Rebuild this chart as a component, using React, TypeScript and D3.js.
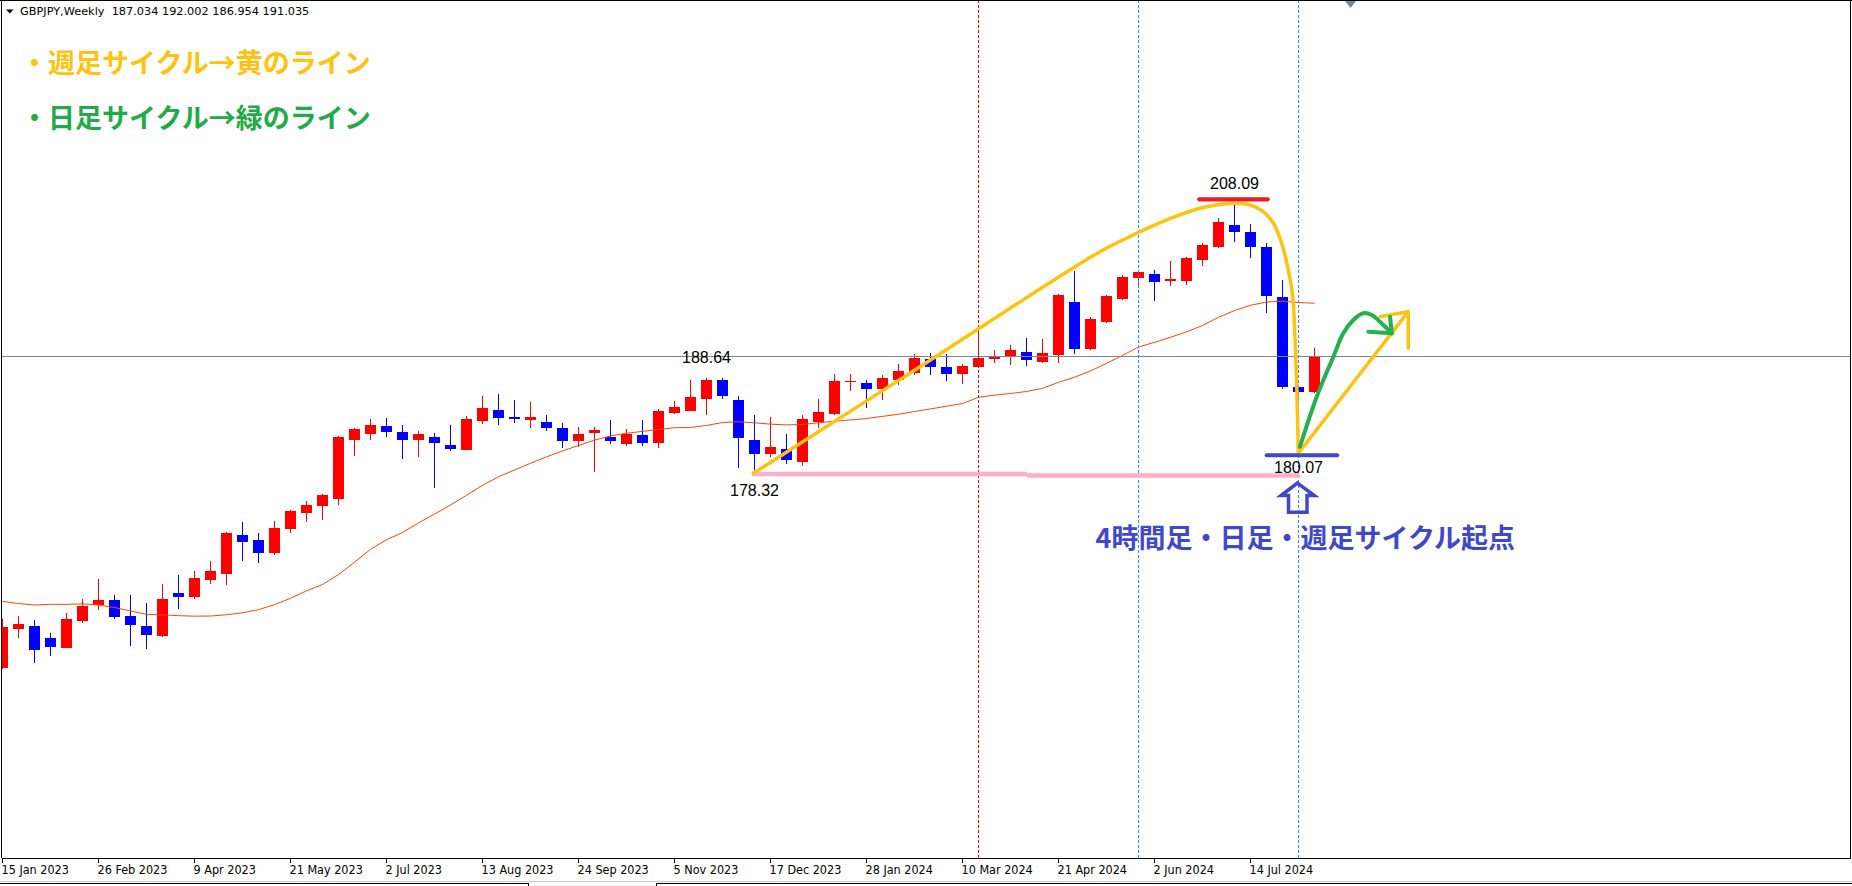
import React, { useEffect, useRef } from 'react'
import * as d3 from 'd3'

// GBPJPY weekly bars, bar 0 = week of 15 Jan 2023
const opens = [
  156.2, 160.59, 160.89, 159.55, 158.47, 161.48, 163.2, 163.8, 162.01, 160.89,
  159.81, 164.58, 164.16, 166.06, 166.73, 171.06, 170.5, 169.05, 171.76, 173.55,
  174.33, 175.11, 181.71, 182.38, 183.24, 182.57, 181.71, 182.01, 181.11, 180.59,
  183.83, 185.02, 184.24, 183.94, 183.68, 183.01, 181.59, 182.49, 182.01, 181.26,
  182.23, 181.37, 184.69, 184.95, 186.25, 188.38, 186.14, 181.67, 180.14, 180.67,
  179.25, 183.72, 184.61, 188.19, 188.04, 187.4, 188.41, 189.19, 190.72, 189.83,
  189.08, 189.86, 190.76, 190.98, 191.5, 190.39, 191.17, 197.09, 191.84, 194.86,
  197.43, 199.81, 200.22, 199.44, 199.44, 201.78, 203.24, 205.69, 204.91, 203.24,
  197.65, 187.59, 187.034
]
const highs = [
  161.67, 162.01, 161.56, 160.11, 162.34, 163.91, 166.14, 164.35, 164.35, 163.46,
  165.58, 166.59, 167.04, 168.15, 171.35, 172.51, 171.28, 172.62, 173.85, 174.86,
  175.64, 182.12, 183.01, 184.02, 184.13, 183.35, 182.68, 182.45, 183.35, 184.35,
  186.59, 186.81, 186.14, 185.92, 184.47, 183.57, 183.12, 183.12, 183.91, 182.9,
  183.91, 185.14, 186.03, 188.38, 188.64, 188.6, 186.59, 184.47, 184.19, 182.34,
  184.47, 186.25, 189.05, 189.05, 188.38, 188.93, 190.16, 191.28, 191.39, 191.28,
  190.16, 193.74, 191.73, 192.29, 193.03, 192.96, 197.98, 200.55, 195.45, 197.87,
  200.11, 200.67, 200.67, 201.67, 202.12, 203.68, 206.48, 208.09, 205.81, 203.68,
  199.55, 187.8, 192.002
]
const lows = [
  156.1, 159.58, 156.79, 157.57, 158.4, 161.26, 162.71, 161.71, 158.69, 158.35,
  159.69, 162.82, 163.94, 165.62, 165.5, 168.19, 167.96, 168.86, 171.31, 172.54,
  172.77, 174.44, 179.92, 181.71, 182.04, 179.52, 179.81, 176.34, 180.48, 180.55,
  183.49, 183.38, 183.6, 183.05, 182.68, 180.81, 180.92, 178.13, 181.22, 181.04,
  181.04, 180.81, 184.58, 184.9, 184.47, 186.22, 178.58, 178.32, 179.81, 179.02,
  178.8, 182.98, 184.5, 187.18, 185.28, 186.17, 187.85, 188.97, 188.97, 188.3,
  187.96, 189.8, 190.31, 190.05, 189.94, 190.28, 190.28, 191.28, 191.73, 194.74,
  197.31, 198.62, 197.2, 198.88, 198.99, 201.11, 203.12, 203.79, 202.01, 195.86,
  187.37, 180.07, 186.954
]
const closes = [
  160.81, 161.11, 158.24, 158.58, 161.67, 163.12, 163.8, 161.93, 161.04, 159.92,
  163.91, 164.16, 166.25, 167.04, 171.28, 170.31, 169.08, 171.84, 173.74, 174.41,
  175.53, 182.01, 182.9, 183.35, 182.51, 181.71, 182.34, 181.37, 180.7, 184.02,
  185.25, 184.16, 184.02, 184.24, 183.05, 181.59, 182.34, 182.79, 181.59, 182.34,
  181.37, 184.91, 185.36, 186.48, 188.38, 186.62, 181.9, 180.14, 180.89, 179.47,
  184.02, 184.8, 188.26, 188.26, 187.4, 188.6, 189.38, 190.83, 189.86, 189.08,
  189.94, 190.83, 191.06, 191.73, 190.61, 191.39, 197.87, 191.84, 195.19, 197.76,
  199.88, 200.44, 199.33, 199.66, 202.01, 203.46, 206.03, 204.91, 203.24, 197.76,
  187.59, 187.03, 191.035
]
// moving average
const maValues = [
  163.65, 163.4, 163.24, 163.31, 163.31, 163.37, 163.24, 162.96, 162.57, 162.2,
  162.14, 162.05, 161.99, 162.01, 162.15, 162.37, 162.72, 163.28, 163.99, 164.82,
  165.53, 166.64, 168.01, 169.46, 170.53, 171.34, 172.4, 173.4, 174.41, 175.5,
  176.61, 177.56, 178.32, 179.07, 179.79, 180.45, 181.06, 181.66, 182.12, 182.43,
  182.63, 182.85, 183.04, 183.07, 183.3, 183.62, 183.71, 183.59, 183.44, 183.36,
  183.41, 183.59, 183.77, 183.91, 184.07, 184.31, 184.55, 184.85, 185.14, 185.45,
  185.74, 186.44, 186.68, 186.87, 187.09, 187.44, 188.12, 188.68, 189.38, 190.23,
  191.12, 192.06, 192.58, 193.15, 193.75, 194.46, 195.38, 196.13, 196.72, 197.09,
  197.18, 197.03, 196.95
]

const tickLabels = [
  '15 Jan 2023', '26 Feb 2023', '9 Apr 2023', '21 May 2023', '2 Jul 2023',
  '13 Aug 2023', '24 Sep 2023', '5 Nov 2023', '17 Dec 2023', '28 Jan 2024',
  '10 Mar 2024', '21 Apr 2024', '2 Jun 2024', '14 Jul 2024'
]
const tickBars = [0, 6, 12, 18, 24, 30, 36, 42, 48, 54, 60, 66, 72, 78]

const headerText = 'GBPJPY,Weekly  187.034 192.002 186.954 191.035'
const bidPrice = 191.035
const redVLineBars = [61]
const blueVLineBars = [71, 81]

// hand drawn marks, as [bar, price]
const weeklyCycle: [number, number][] = [
  [46.93, 177.95], [57.76, 190.33], [68.59, 202.71], [70.68, 204.58],
  [72.76, 206.25], [74.84, 207.56], [76.92, 208.12], [77.97, 207.93],
  [78.8, 207.18], [79.43, 205.88], [79.95, 203.65], [80.36, 200.67],
  [80.64, 197.68], [80.78, 193.21], [80.89, 187.63], [80.99, 180.19]
]
const weeklyArrow: [number, number][] = [[80.99, 180.19], [87.86, 196.01]]
const weeklyArrowHead: [number, number][] = [[86.09, 195.45], [87.86, 196.01], [87.86, 191.92]]
const dailyCycle: [number, number][] = [
  [81.09, 180.92], [82.14, 186.51], [83.18, 190.98], [83.8, 193.59],
  [84.43, 195.08], [85.05, 195.83], [85.58, 195.64], [86.09, 194.89], [86.83, 193.59]
]
const dailyArrowHead: [number, number][] = [[85.36, 193.77], [86.83, 193.59], [86.72, 195.45]]
const pinkLevel: [number, number][][] = [
  [[46.84, 177.87], [64.03, 177.87]],
  [[64.03, 177.71], [81.09, 177.71]]
]
const topMark: [number, number][] = [[74.8, 208.56], [79.07, 208.56]]
const bottomMark: [number, number][] = [[79.01, 179.96], [83.42, 179.96]]
const highLabels: [number, number, string][] = [[44, 188.64, '188.64'], [77, 208.09, '208.09']]
const lowLabels: [number, number, string][] = [[47, 178.32, '178.32'], [81, 180.07, '180.07']]

const noteLines = ['・週足サイクル→黄のライン', '・日足サイクル→緑のライン']
const noteColors = ['#FFC20E', '#22AA48']
const startNote = '4時間足・日足・週足サイクル起点'

const width = 1852
const height = 886

const App: React.FC = () => {
  const svgRef = useRef<SVGSVGElement>(null)

  useEffect(() => {
    if (!svgRef.current) return
    const svg = d3.select(svgRef.current)
    svg.selectAll('*').remove()

    const axisY = 858
    const left = 1.5
    const right = 1850.5

    const x = d3.scaleLinear().domain([0, 115]).range([2.5, 1842.5])
    const y = d3.scaleLinear().domain([178.32, 208.09]).range([470, 203.5])

    const bars = opens.map((o, i) => ({ i, o, h: highs[i], l: lows[i], c: closes[i] }))

    svg.append('rect').attr('width', width).attr('height', height).attr('fill', '#ffffff')

    svg
      .append('clipPath')
      .attr('id', 'plot-clip')
      .append('rect')
      .attr('x', 2)
      .attr('y', 1)
      .attr('width', right - 2)
      .attr('height', axisY - 1)

    const plot = svg.append('g').attr('clip-path', 'url(#plot-clip)')

    // candles
    const candle = plot
      .selectAll('.candle')
      .data(bars)
      .enter()
      .append('g')
      .attr('class', 'candle')
      .attr('fill', (d) => (d.c >= d.o ? '#ff0000' : '#0000ff'))
      .attr('shape-rendering', 'crispEdges')

    candle
      .append('rect')
      .attr('x', (d) => x(d.i) - 0.5)
      .attr('width', 1)
      .attr('y', (d) => Math.round(y(d.h)))
      .attr('height', (d) => Math.max(1, Math.round(y(d.l)) - Math.round(y(d.h))))

    candle
      .append('rect')
      .attr('x', (d) => x(d.i) - 5.5)
      .attr('width', 11)
      .attr('y', (d) => Math.round(y(Math.max(d.o, d.c))))
      .attr('height', (d) =>
        Math.max(1, Math.round(y(Math.min(d.o, d.c))) - Math.round(y(Math.max(d.o, d.c))))
      )

    // moving average
    plot
      .append('path')
      .datum(maValues)
      .attr('fill', 'none')
      .attr('stroke', '#ff4500')
      .attr('stroke-width', 1)
      .attr(
        'd',
        d3
          .line<number>()
          .x((_, i) => x(i))
          .y((d) => y(d))
      )

    // bid line
    plot
      .append('line')
      .attr('x1', 0)
      .attr('x2', right)
      .attr('y1', Math.round(y(bidPrice)) + 0.5)
      .attr('y2', Math.round(y(bidPrice)) + 0.5)
      .attr('stroke', '#778899')
      .attr('stroke-width', 1)

    // vertical dotted lines
    const vLines = [
      ...redVLineBars.map((b) => ({ b, color: '#ff0000' })),
      ...blueVLineBars.map((b) => ({ b, color: '#1e90ff' }))
    ]
    plot
      .selectAll('.vline')
      .data(vLines)
      .enter()
      .append('line')
      .attr('class', 'vline')
      .attr('x1', (d) => x(d.b))
      .attr('x2', (d) => x(d.b))
      .attr('y1', 0)
      .attr('y2', axisY)
      .attr('stroke', (d) => d.color)
      .attr('stroke-width', 1)
      .attr('stroke-dasharray', '3 2')
      .attr('shape-rendering', 'crispEdges')

    // frame + time axis
    const frame = svg.append('g').attr('stroke', '#000000').attr('shape-rendering', 'crispEdges')
    frame.append('line').attr('x1', 0).attr('x2', width).attr('y1', 0.5).attr('y2', 0.5)
    frame.append('line').attr('x1', left).attr('x2', left).attr('y1', 0).attr('y2', axisY)
    frame.append('line').attr('x1', right).attr('x2', right).attr('y1', 0).attr('y2', axisY)
    frame.append('line').attr('x1', left).attr('x2', right).attr('y1', axisY + 0.5).attr('y2', axisY + 0.5)

    frame
      .selectAll('.tick')
      .data(tickBars)
      .enter()
      .append('line')
      .attr('x1', (d) => x(d))
      .attr('x2', (d) => x(d))
      .attr('y1', axisY)
      .attr('y2', axisY + 5)

    svg
      .selectAll('.tick-label')
      .data(tickLabels)
      .enter()
      .append('text')
      .attr('class', 'tick-label')
      .attr('x', (_, i) => x(tickBars[i]) - 1)
      .attr('y', 874)
      .attr('fill', '#000000')
      .style('font-family', "'DejaVu Sans Condensed', 'Liberation Sans Narrow', 'DejaVu Sans'")
      .style('font-size', '12.5px')
      .text((d) => d)

    // bottom tab strip
    svg.append('line').attr('x1', 0).attr('x2', width).attr('y1', 881.5).attr('y2', 881.5)
      .attr('stroke', '#c8c8c8').attr('shape-rendering', 'crispEdges')
    const tab = svg.append('g').attr('stroke', '#000000').attr('shape-rendering', 'crispEdges')
    tab.append('line').attr('x1', 0).attr('x2', 528.5).attr('y1', 883.5).attr('y2', 883.5)
    tab.append('line').attr('x1', 656.5).attr('x2', width).attr('y1', 883.5).attr('y2', 883.5)
    tab.append('line').attr('x1', 528.5).attr('x2', 528.5).attr('y1', 883).attr('y2', height)
    tab.append('line').attr('x1', 656.5).attr('x2', 656.5).attr('y1', 883).attr('y2', height)

    // header
    svg
      .append('path')
      .attr('d', 'M6,9.5 L13.5,9.5 L9.75,13.5 Z')
      .attr('fill', '#000000')
    svg
      .append('text')
      .attr('x', 20)
      .attr('y', 15)
      .attr('fill', '#000000')
      .style('font-family', "'DejaVu Sans', sans-serif")
      .style('font-size', '11.3px')
      .style('white-space', 'pre')
      .text(headerText)

    // chart shift marker
    svg
      .append('path')
      .attr('d', 'M1345,1 L1356,1 L1350.5,8 Z')
      .attr('fill', '#778899')

    // hand drawn overlay
    const pt = d3
      .line<[number, number]>()
      .x((d) => x(d[0]))
      .y((d) => y(d[1]))
    const curve = d3
      .line<[number, number]>()
      .x((d) => x(d[0]))
      .y((d) => y(d[1]))
      .curve(d3.curveCatmullRom.alpha(0.5))

    const draw = svg.append('g').attr('fill', 'none').attr('stroke-linecap', 'round').attr('stroke-linejoin', 'round')

    pinkLevel.forEach((seg) => {
      draw.append('path').attr('d', pt(seg)).attr('stroke', '#FFAEC9').attr('stroke-width', 4.5).attr('stroke-linecap', 'butt')
    })

    draw.append('path').attr('d', curve(weeklyCycle)).attr('stroke', '#FFC20E').attr('stroke-width', 3.5)
    draw.append('path').attr('d', pt(weeklyArrow)).attr('stroke', '#FFC20E').attr('stroke-width', 3.5)
    draw.append('path').attr('d', pt(weeklyArrowHead)).attr('stroke', '#FFC20E').attr('stroke-width', 3.5)
    draw.append('path').attr('d', curve(dailyCycle)).attr('stroke', '#22B14C').attr('stroke-width', 4)
    draw.append('path').attr('d', pt(dailyArrowHead)).attr('stroke', '#22B14C').attr('stroke-width', 4)

    draw.append('path').attr('d', pt(topMark)).attr('stroke', '#ED1C24').attr('stroke-width', 4.3)
    draw.append('path').attr('d', pt(bottomMark)).attr('stroke', '#3F48CC').attr('stroke-width', 4)

    // hollow up arrow below the low
    const ax = x(81)
    const ay = y(180.07)
    const arrowShape: [number, number][] = [
      [-1, 28.7], [15.8, 41.2], [8.5, 41.2], [8.5, 57.9], [-10, 57.9], [-10, 41.2], [-17.5, 41.2]
    ]
    svg
      .append('path')
      .attr('d', 'M' + arrowShape.map((p) => `${ax + p[0]},${ay + p[1]}`).join('L') + 'Z')
      .attr('fill', 'none')
      .attr('stroke', '#3F48CC')
      .attr('stroke-width', 3.5)
      .attr('stroke-linejoin', 'miter')

    // price labels
    const labelFont = "'Liberation Sans', Arial, sans-serif"
    svg
      .selectAll('.hi-label')
      .data(highLabels)
      .enter()
      .append('text')
      .attr('x', (d) => x(d[0]))
      .attr('y', (d) => y(d[1]) - 15)
      .attr('text-anchor', 'middle')
      .attr('fill', '#000000')
      .style('font-family', labelFont)
      .style('font-size', '16px')
      .text((d) => d[2])
    svg
      .selectAll('.lo-label')
      .data(lowLabels)
      .enter()
      .append('text')
      .attr('x', (d) => x(d[0]))
      .attr('y', (d, i) => y(d[1]) + (i === 0 ? 26 : 19))
      .attr('text-anchor', 'middle')
      .attr('fill', '#000000')
      .style('font-family', labelFont)
      .style('font-size', '16px')
      .text((d) => d[2])

    // notes
    const cjk = "'Noto Sans CJK JP', 'Noto Sans CJK SC', sans-serif"
    svg
      .selectAll('.note')
      .data(noteLines)
      .enter()
      .append('text')
      .attr('x', 21)
      .attr('y', (_, i) => 61.5 + i * 55.3)
      .attr('dominant-baseline', 'central')
      .attr('fill', (_, i) => noteColors[i])
      .style('font-family', cjk)
      .style('font-size', '27px')
      .style('font-weight', 700)
      .text((d) => d)

    svg
      .append('text')
      .attr('x', 1095.5)
      .attr('y', 536)
      .attr('dominant-baseline', 'central')
      .attr('fill', '#3F48CC')
      .style('font-family', cjk)
      .style('font-size', '27px')
      .style('font-weight', 700)
      .text(startNote)
  }, [])

  return (
    <svg
      ref={svgRef}
      width={width}
      height={height}
      style={{ position: 'absolute', left: 0, top: 0, display: 'block' }}
    ></svg>
  )
}

export default App
